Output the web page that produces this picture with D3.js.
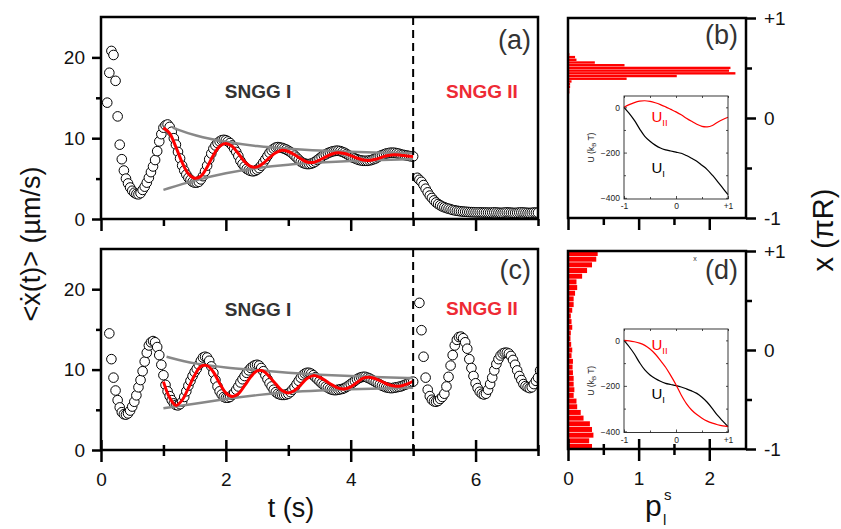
<!DOCTYPE html>
<html><head><meta charset="utf-8">
<script src="https://cdn.jsdelivr.net/npm/d3@7/dist/d3.min.js"></script>
<style>
body{margin:0;background:#fff;}
svg{display:block;font-family:"Liberation Sans",Arial,sans-serif;}
</style></head><body>
<div id="chart"></div>
<script>
// sampling step of the velocity traces (s); first sample index of each trace
var dt = 1/30;
var firstA = 3, firstC = 4;

var velA = [14.4,18.1,20.8,20.3,17.1,12.7,9.2,7.4,6.0,5.0,
 4.4,3.9,3.5,3.25,3.1,3.05,3.2,3.6,4.0,4.5,
 5.1,5.8,6.5,7.3,8.4,9.6,10.5,11.3,11.6,11.7,
 11.4,10.8,10.0,9.2,8.3,7.5,6.6,6.0,5.5,5.1,
 4.85,4.6,4.5,4.5,4.6,4.9,5.3,5.9,6.6,7.4,
 8.1,8.7,9.1,9.4,9.6,9.75,9.8,9.75,9.6,9.4,
 9.1,8.7,8.3,7.8,7.2,6.8,6.5,6.2,6.05,5.95,
 5.9,5.95,6.1,6.3,6.6,7.0,7.4,7.8,8.2,8.5,
 8.7,8.85,8.9,8.85,8.8,8.7,8.6,8.45,8.3,8.1,
 7.85,7.6,7.35,7.1,6.95,6.85,6.8,6.8,6.85,6.95,
 7.1,7.3,7.5,7.7,7.9,
 8.0,8.15,8.25,8.35,8.4,8.45,8.45,8.4,8.3,8.2,
 8.05,7.9,7.75,7.6,7.5,7.4,7.3,7.25,7.2,7.2,
 7.2,7.25,7.3,7.4,7.5,7.65,7.8,7.9,8.0,8.1,
 8.15,8.2,8.2,8.2,8.15,8.1,8.0,7.95,7.9,7.85,
 7.8,7.75,7.75,null,5.1,
 4.85,4.6,4.2,3.75,3.3,2.9,2.6,2.3,2.05,1.85,
 1.7,1.55,1.45,1.35,1.28,1.2,1.12,1.07,1.02,0.98,
 0.95,0.92,0.9,
 0.88,0.86,0.85,0.84,0.83,0.82,0.82,0.81,0.8,0.8,
 0.79,0.78,0.8,0.82,0.8,0.78,0.76,0.77,0.8,0.82,
 0.8,0.78,0.76,0.75,0.77,0.8,0.82,0.8,0.78,0.76,
 0.75,0.77,0.8,0.79,0.78];

var velC = [14.5,11.3,9.0,7.4,6.2,5.3,4.7,4.45,4.4,4.55,
 4.9,5.4,6.0,6.8,7.8,8.7,9.8,11.0,12.1,13.0,
 13.4,13.55,13.4,12.8,11.8,10.6,9.3,8.1,7.3,6.7,
 6.2,5.8,5.6,5.55,5.7,6.0,6.6,7.3,8.0,8.6,
 9.2,9.7,10.1,10.6,11.1,11.5,11.6,11.5,11.1,10.4,
 9.6,8.7,7.9,7.3,6.9,6.6,6.5,6.5,6.6,6.85,
 7.1,7.5,7.9,8.4,8.8,9.2,9.6,9.9,10.2,10.4,
 10.55,10.6,10.5,10.2,9.8,9.3,8.8,8.3,7.9,7.5,
 7.2,7.0,6.9,6.85,6.85,6.9,7.0,7.2,7.5,7.8,
 8.2,8.6,9.0,9.3,9.5,9.6,9.6,9.5,9.3,9.05,
 8.8,8.55,8.3,8.1,7.9,7.75,7.6,7.5,7.45,7.45,
 7.5,7.55,7.6,7.7,7.85,8.0,8.2,8.4,8.6,8.8,
 8.95,9.05,9.1,9.1,9.0,8.9,8.75,8.6,8.45,8.3,
 8.15,8.0,7.9,7.8,7.75,7.7,7.7,7.75,7.8,7.85,
 7.9,8.0,8.1,8.2,8.35,8.45,8.5,
 null,null,
 18.3,14.9,11.6,9.0,7.5,6.7,6.25,6.05,6.0,6.1,
 6.35,6.6,7.0,7.9,9.1,10.5,11.8,13.0,13.7,14.05,
 14.1,13.9,13.4,12.6,11.3,10.2,9.2,8.3,7.7,7.25,
 7.0,6.9,7.0,7.5,8.2,9.0,9.9,10.7,11.3,11.75,
 12.0,12.1,12.1,12.0,11.7,11.2,10.6,9.9,9.2,8.7,
 8.2,7.95,7.8,7.7,7.8,8.2,8.6,9.0,9.9];

// damped-oscillation fits (red)
var fitT = [1.0,1.1,1.2,1.3,1.4,1.5,1.6,1.7,1.8,1.9,2.0,2.1,2.2,2.3,2.4,2.5,2.6,2.7,2.8,2.9,3.0,
 3.1,3.2,3.3,3.4,3.5,3.6,3.7,3.8,3.9,4.0,4.1,4.2,4.3,4.4,4.5,4.6,4.7,4.8,4.9,5.0];
var fitA = [11.3,10.6,8.9,7.0,5.6,5.05,5.3,6.4,7.9,9.0,9.35,9.0,8.1,7.1,6.5,6.45,6.9,7.6,8.2,8.5,8.35,
 7.95,7.45,7.05,7.0,7.3,7.7,8.05,8.2,8.1,7.85,7.55,7.3,7.25,7.4,7.65,7.85,7.95,7.9,7.8,7.75];
var fitC = [8.5,6.5,5.55,6.2,7.7,9.3,10.4,10.5,9.7,8.3,7.1,6.65,7.0,8.0,9.1,9.85,9.8,9.1,8.2,7.4,7.1,
 7.4,8.1,8.9,9.25,9.05,8.6,8.1,7.7,7.6,7.85,8.4,8.95,9.05,8.85,8.5,8.15,7.95,7.95,8.2,8.55];

// envelopes (grey)
var upTA = [1.15,1.5,2.0,2.5,3.0,3.5,4.0,4.5,5.0];
var upA = [11.3,10.3,9.5,9.0,8.7,8.45,8.3,8.2,8.15];
var envT = [1.0,1.5,2.0,2.5,3.0,3.5,4.0,4.5,5.0];
var lowA = [3.6,4.8,5.7,6.35,6.75,7.0,7.2,7.3,7.4];
var upTC = [1.05,1.5,2.0,2.5,3.0,3.5,4.0,4.5,5.0];
var upC = [11.6,10.7,10.25,9.95,9.6,9.35,9.2,9.05,8.95];
var lowC = [5.2,5.75,6.35,6.85,7.2,7.4,7.55,7.65,7.75];

// histograms of position, bins listed from x=+1 down to x=-1
var histB = [0,0,0,0,0,0,0,0,0,0,0,0,0,0.02,0.1,0.12,0.38,0.8,2.3,2.28,2.37,1.54,0.83,0.05,0.03,0.03,0.02,0.02,0.01,0.01,
 0,0,0,0,0,0,0,0,0,0,0,0,0,0,0,0,0,0,0,0,0,0,0,0,0,0,0,0,0,0,0,0,0,0,0,0,0,0,0,0,0,0,0,0];
var histD = [0.42,0.40,0.34,0.27,0.2,0.12,0.13,0.1,0.08,0.08,0.06,0.04,0.05,0.06,0.04,0.035,0.045,0.06,0.05,0.07,
 0.065,0.07,0.08,0.08,0.09,0.08,0.12,0.13,0.18,0.22,0.31,0.34,0.36,0.3,0.34];

// potentials (insets)
var potX = [-1,-0.9,-0.8,-0.7,-0.6,-0.5,-0.4,-0.3,-0.2,-0.1,0,0.1,0.2,0.3,0.4,0.5,0.6,0.7,0.8,0.9,1];
var uIb = [0,-27,-58,-95,-128,-150,-167,-180,-188,-193,-198,-203,-213,-225,-238,-256,-275,-300,-328,-357,-386];
var uIIb = [0,12,21,27,29,26,20,12,2,-9,-20,-33,-48,-62,-75,-84,-86,-80,-66,-54,-44];
var uId = [0,-28,-60,-98,-130,-152,-168,-180,-189,-194,-199,-205,-213,-222,-233,-250,-272,-300,-330,-355,-379];
var uIId = [0,-2,-6,-12,-22,-38,-60,-88,-118,-155,-195,-240,-278,-306,-326,-342,-355,-364,-371,-376,-379];

var tMajor = [0,2,4,6], tMinor = [1,3,5,7];
var vMajor = [0,10,20], vMinor = [5,15];
var pMajor = [0,1,2], pMinor = [0.5,1.5];
var xMajor = [-1,0,1], xMinor = [-0.5,0.5];
var uMajor = [0,-200,-400], uMinor = [-100,-300];

var svg = d3.select("#chart").append("svg").attr("width",841).attr("height",529);

var boxA = {x0:101,x1:538,y0:17,y1:219};
var boxC = {x0:101,x1:538,y0:249,y1:450};
var boxB = {x0:568,x1:746,y0:18,y1:218};
var boxD = {x0:568,x1:746,y0:251,y1:449};
var inB = {x0:624,x1:728,y0:96,y1:199};
var inD = {x0:624,x1:728,y0:329,y1:432.5};

var defs = svg.append("defs");
function clip(id, b){
  defs.append("clipPath").attr("id",id).append("rect")
    .attr("x",b.x0).attr("y",b.y0).attr("width",b.x1-b.x0).attr("height",b.y1-b.y0);
}
clip("cA",boxA); clip("cC",boxC); clip("cB",boxB); clip("cD",boxD);

function styleAxis(g, size){
  g.select(".domain").remove();
  g.selectAll(".tick line").attr("stroke","#000").attr("stroke-width",2.5);
  g.selectAll(".tick text").attr("font-size",size).attr("fill","#111")
    .attr("font-family","Liberation Sans, Arial, sans-serif");
}

function tracePanel(box, vals, first, fit, upT, up, low, clipId, crossTicks, showLabels){
  var x = d3.scaleLinear().domain([0,7]).range([box.x0,box.x1]);
  var y = d3.scaleLinear().domain([0,25]).range([box.y1,box.y0]);
  var pts = vals.map(function(v,i){ return {t:(first+i)*dt, v:v}; }).filter(function(d){ return d.v!==null; });

  var g = svg.append("g");
  g.append("g").attr("clip-path","url(#"+clipId+")")
    .selectAll("circle").data(pts).enter().append("circle")
    .attr("cx",function(d){return x(d.t);}).attr("cy",function(d){return y(d.v);})
    .attr("r",4.8).attr("fill","#fff").attr("stroke","#000").attr("stroke-width",1);

  var ln = d3.line().x(function(d){return x(d[0]);}).y(function(d){return y(d[1]);}).curve(d3.curveBasis);
  g.append("path").attr("d",ln(upT.map(function(t,i){return [t,up[i]];})))
    .attr("fill","none").attr("stroke","#888").attr("stroke-width",2.5);
  g.append("path").attr("d",ln(envT.map(function(t,i){return [t,low[i]];})))
    .attr("fill","none").attr("stroke","#888").attr("stroke-width",2.5);
  var fl = d3.line().x(function(d){return x(d[0]);}).y(function(d){return y(d[1]);}).curve(d3.curveCatmullRom);
  g.append("path").attr("d",fl(fitT.map(function(t,i){return [t,fit[i]];})))
    .attr("fill","none").attr("stroke","#ff0000").attr("stroke-width",3);

  g.append("line").attr("x1",x(5)).attr("x2",x(5)).attr("y1",box.y0).attr("y2",box.y1)
    .attr("stroke","#000").attr("stroke-width",2).attr("stroke-dasharray","8,5");

  var ay = g.append("g").attr("transform","translate("+box.x0+",0)")
    .call(d3.axisLeft(y).tickValues(vMajor).tickSize(9).tickPadding(7));
  styleAxis(ay,19);
  var ay2 = g.append("g").attr("transform","translate("+box.x0+",0)")
    .call(d3.axisLeft(y).tickValues(vMinor).tickSize(5).tickFormat(""));
  styleAxis(ay2,19);

  var ax = g.append("g").attr("transform","translate(0,"+box.y1+")")
    .call(d3.axisBottom(x).tickValues(tMajor).tickSize(12).tickPadding(11)
      .tickFormat(showLabels ? d3.format("d") : ""));
  styleAxis(ax,19);
  var ax2 = g.append("g").attr("transform","translate(0,"+box.y1+")")
    .call(d3.axisBottom(x).tickValues(tMinor).tickSize(7).tickFormat(""));
  styleAxis(ax2,19);
  if (crossTicks){
    ax.selectAll(".tick line").attr("y1",-10);
    ax2.selectAll(".tick line").attr("y1",-5).attr("y2",6);
  }

  g.append("rect").attr("x",box.x0).attr("y",box.y0).attr("width",box.x1-box.x0).attr("height",box.y1-box.y0)
    .attr("fill","none").attr("stroke","#000").attr("stroke-width",2.5);
  return g;
}

var gA = tracePanel(boxA, velA, firstA, fitA, upTA, upA, lowA, "cA", false, false);
var gC = tracePanel(boxC, velC, firstC, fitC, upTC, upC, lowC, "cC", true, true);

function histPanel(box, bins, clipId, crossTicks, showLabels, inset, uI, uII, lab){
  var p = d3.scaleLinear().domain([0,2.52]).range([box.x0,box.x1]);
  var band = d3.scaleBand().domain(d3.range(bins.length)).range([box.y0,box.y1]).paddingInner(0.12);
  var xr = d3.scaleLinear().domain([-1,1]).range([box.y1,box.y0]);
  var g = svg.append("g");
  g.append("g").attr("clip-path","url(#"+clipId+")")
    .selectAll("rect").data(bins).enter().append("rect")
    .attr("x",p(0)).attr("y",function(d,i){return band(i);})
    .attr("width",function(d){return p(d)-p(0);}).attr("height",band.bandwidth())
    .attr("fill","#ff0000");

  var ar = g.append("g").attr("transform","translate("+box.x1+",0)")
    .call(d3.axisRight(xr).tickValues(xMajor).tickSize(10).tickPadding(8)
      .tickFormat(function(d){ return d>0 ? "+"+d : String(d); }));
  styleAxis(ar,19);
  var ar2 = g.append("g").attr("transform","translate("+box.x1+",0)")
    .call(d3.axisRight(xr).tickValues(xMinor).tickSize(6).tickFormat(""));
  styleAxis(ar2,19);

  var ab = g.append("g").attr("transform","translate(0,"+box.y1+")")
    .call(d3.axisBottom(p).tickValues(pMajor).tickSize(12).tickPadding(11)
      .tickFormat(showLabels ? d3.format("d") : ""));
  styleAxis(ab,19);
  var ab2 = g.append("g").attr("transform","translate(0,"+box.y1+")")
    .call(d3.axisBottom(p).tickValues(pMinor).tickSize(7).tickFormat(""));
  styleAxis(ab2,19);
  if (crossTicks){
    ab.selectAll(".tick line").attr("y1",-10);
    ab2.selectAll(".tick line").attr("y1",-5).attr("y2",6);
  }
  g.append("rect").attr("x",box.x0).attr("y",box.y0).attr("width",box.x1-box.x0).attr("height",box.y1-box.y0)
    .attr("fill","none").attr("stroke","#000").attr("stroke-width",2.5);

  // inset potential plot
  var ix = d3.scaleLinear().domain([-1,1]).range([inset.x0,inset.x1]);
  var iy = d3.scaleLinear().domain([-405,50]).range([inset.y1,inset.y0]);
  var gi = g.append("g");
  gi.append("rect").attr("x",inset.x0).attr("y",inset.y0).attr("width",inset.x1-inset.x0).attr("height",inset.y1-inset.y0)
    .attr("fill","#fff");
  function inAxis(sel, w){
    sel.select(".domain").remove();
    sel.selectAll(".tick line").attr("stroke","#222").attr("stroke-width",w);
    sel.selectAll(".tick text").attr("font-size",8.5).attr("fill","#222");
  }
  inAxis(gi.append("g").attr("transform","translate(0,"+inset.y1+")")
    .call(d3.axisBottom(ix).tickValues(xMajor).tickSize(-3).tickPadding(4)
      .tickFormat(function(d){ return d>0 ? "+"+d : String(d); })),0.8);
  inAxis(gi.append("g").attr("transform","translate(0,"+inset.y1+")")
    .call(d3.axisBottom(ix).tickValues(xMinor).tickSize(-2).tickFormat("")),0.8);
  inAxis(gi.append("g").attr("transform","translate(0,"+inset.y0+")")
    .call(d3.axisTop(ix).tickValues(xMajor.concat(xMinor)).tickSize(-2).tickFormat("")),0.8);
  inAxis(gi.append("g").attr("transform","translate("+inset.x0+",0)")
    .call(d3.axisLeft(iy).tickValues(uMajor).tickSize(-3).tickPadding(4)),0.8);
  inAxis(gi.append("g").attr("transform","translate("+inset.x0+",0)")
    .call(d3.axisLeft(iy).tickValues(uMinor).tickSize(-2).tickFormat("")),0.8);
  inAxis(gi.append("g").attr("transform","translate("+inset.x1+",0)")
    .call(d3.axisRight(iy).tickValues(uMajor.concat(uMinor)).tickSize(-2).tickFormat("")),0.8);

  var pl = d3.line().x(function(d){return ix(d[0]);}).y(function(d){return iy(d[1]);}).curve(d3.curveCatmullRom);
  gi.append("path").attr("d",pl(potX.map(function(v,i){return [v,uI[i]];})))
    .attr("fill","none").attr("stroke","#000").attr("stroke-width",1.2);
  gi.append("path").attr("d",pl(potX.map(function(v,i){return [v,uII[i]];})))
    .attr("fill","none").attr("stroke","#ff0000").attr("stroke-width",1.2);
  gi.append("rect").attr("x",inset.x0).attr("y",inset.y0).attr("width",inset.x1-inset.x0).attr("height",inset.y1-inset.y0)
    .attr("fill","none").attr("stroke","#222").attr("stroke-width",0.9);

  var cy = (inset.y0+inset.y1)/2;
  var ut = gi.append("text").attr("transform","translate(594,"+cy+") rotate(-90)")
    .attr("text-anchor","middle").attr("font-size",8.5).attr("fill","#222");
  ut.append("tspan").text("U (k");
  ut.append("tspan").attr("font-size",6).attr("dy",2).text("B");
  ut.append("tspan").attr("dy",-2).text(" T)");

  var t2 = gi.append("text").attr("x",651.5).attr("y",lab[0]).attr("font-size",15).attr("fill","#ff0000");
  t2.append("tspan").text("U");
  t2.append("tspan").attr("font-size",9.5).attr("dy",4).text("II");
  var t1 = gi.append("text").attr("x",651.5).attr("y",lab[1]).attr("font-size",15).attr("fill","#000");
  t1.append("tspan").text("U");
  t1.append("tspan").attr("font-size",9.5).attr("dy",4).text("I");
  return g;
}

histPanel(boxB, histB, "cB", false, false, inB, uIb, uIIb, [121.5,173]);
histPanel(boxD, histD, "cD", true, true, inD, uId, uIId, [350,399]);

svg.append("text").attr("x",695).attr("y",261).attr("font-size",7).attr("fill","#333").attr("text-anchor","middle").text("x");

// panel tags and regime labels
function txt(x,y,s,size,fill,weight,anchor){
  return svg.append("text").attr("x",x).attr("y",y).attr("font-size",size).attr("fill",fill)
    .attr("font-weight",weight||"normal").attr("text-anchor",anchor||"start").text(s);
}
txt(531,49,"(a)",27,"#333","normal","end");
txt(531,279,"(c)",27,"#333","normal","end");
txt(738,44,"(b)",27,"#333","normal","end");
txt(738,279,"(d)",27,"#333","normal","end");
txt(258,98,"SNGG I",19,"#333","bold","middle");
txt(482,98,"SNGG II",19,"#ee2a35","bold","middle");
txt(258,316,"SNGG I",19,"#333","bold","middle");
txt(482,315,"SNGG II",19,"#ee2a35","bold","middle");

// axis titles
txt(291,517,"t (s)",27,"#111","normal","middle");
svg.append("text").attr("transform","translate(40,244) rotate(-90)").attr("text-anchor","middle")
  .attr("font-size",27).attr("fill","#111").text("<\u1E8B(t)> (\u00B5m/s)");
svg.append("text").attr("transform","translate(833,230) rotate(-90)").attr("text-anchor","middle")
  .attr("font-size",29).attr("fill","#111").text("x (\u03C0R)");
var pt = svg.append("text").attr("x",645).attr("y",516).attr("font-size",30).attr("fill","#111");
pt.append("tspan").text("p");
svg.append("text").attr("x",663).attr("y",525).attr("font-size",15).attr("fill","#111").text("l");
svg.append("text").attr("x",664).attr("y",500).attr("font-size",15).attr("fill","#111").text("s");
</script></body></html>
